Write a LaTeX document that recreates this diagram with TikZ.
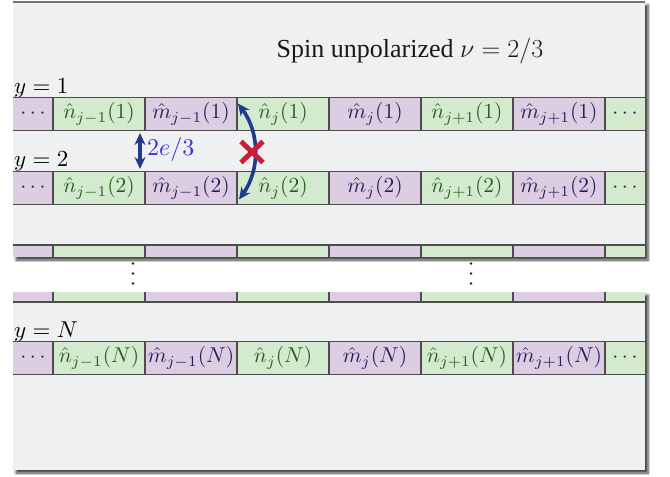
\RequirePackage{fix-cm}
\documentclass[tikz,border=0pt]{standalone}
\usepackage{graphicx}
\usepackage{fontspec}
\newfontfamily\titlefont{Liberation Serif}
\usetikzlibrary{arrows.meta,shapes.misc,shadows.blur,calc}
\definecolor{bgpanel}{HTML}{EFF0F2}
\definecolor{cellP}{HTML}{DCCDE3}
\definecolor{cellG}{HTML}{D4EACF}
\definecolor{txtG}{HTML}{24601A}
\definecolor{txtP}{HTML}{2A1F5C}
\definecolor{arrB}{HTML}{223A8E}
\definecolor{lblB}{HTML}{3030E0}
\definecolor{xred}{HTML}{C81E3A}
\definecolor{edgegray}{HTML}{4D4D4D}
\newcommand\sbx[1]{\scalebox{2.15}{$#1$}}
\newcommand\cellrow[3]{%
\node[cellp,minimum width=40pt] (#1a) at (33,#2) {\sbx{\cdots}};
\node[cellg,minimum width=92pt] (#1b) at (99,#2) {\sbx{\hat n_{j-1}(#3)}};
\node[cellp,minimum width=92pt] (#1c) at (191,#2) {\sbx{\hat m_{j-1}(#3)}};
\node[cellg,minimum width=92pt] (#1d) at (283,#2) {\sbx{\hat n_{j}(#3)}};
\node[cellp,minimum width=92pt] (#1e) at (375,#2) {\sbx{\hat m_{j}(#3)}};
\node[cellg,minimum width=92pt] (#1f) at (467,#2) {\sbx{\hat n_{j+1}(#3)}};
\node[cellp,minimum width=92pt] (#1g) at (559,#2) {\sbx{\hat m_{j+1}(#3)}};
\node[cellg,minimum width=40pt,text=txtP] (#1h) at (625,#2) {\sbx{\cdots}};
\draw[edgeline] (#1a.north west) -- (#1h.north east) (#1a.south west) -- (#1h.south east);
\foreach \cc in {b,c,d,e,f,g,h} {\draw[edgeline] (#1\cc.north west) -- (#1\cc.south west);}
}
\begin{document}
\begin{tikzpicture}[x=1pt,y=-1pt,
  cellbase/.style={minimum height=33pt, inner sep=0pt, outer sep=0pt},
  cellp/.style={cellbase, fill=cellP, text=txtP},
  cellg/.style={cellbase, fill=cellG, text=txtG},
  edgeline/.style={draw=edgegray, line width=1.2pt},
  lbl/.style={anchor=base west, inner sep=0pt},
  panel/.style={fill=bgpanel, blur shadow={shadow xshift=3pt, shadow yshift=-3pt, shadow blur steps=6, shadow opacity=70}},
  bluearrow/.style={draw=arrB, line width=3.6pt, {Stealth[length=12pt,width=11pt]}-{Stealth[length=12pt,width=11pt]}},
  dotnode/.style={circle, fill=black!85, inner sep=0pt, minimum size=2.8pt},
]
\useasboundingbox (0,0) rectangle (670,477);
\fill[white] (0,0) rectangle (670,477);
% panels
\path[panel] (13,2) rectangle (645,257);
\path[panel] (13,292) rectangle (645,470);
\draw[draw=black!55, line width=1.2pt] (13,2) -- (645,2);
% title
\node[anchor=base, inner sep=0pt, text=black!90, font=\titlefont\fontsize{26}{31}\selectfont] (title) at (410,57) {Spin unpolarized $\nu=2/3$};
% labels
\node[lbl] (ly1) at (14,93) {\scalebox{2.3}{$y=1$}};
\node[lbl] (ly2) at (14,166) {\scalebox{2.3}{$y=2$}};
\node[lbl] (lyN) at (14,337) {\scalebox{2.3}{$y=N$}};
% rows
\cellrow{r1}{114}{1}
\cellrow{r2}{188}{2}
\cellrow{rN}{358}{N}
% torn strips
\foreach \xa/\xb/\col in {13/53/cellP,53/145/cellG,145/237/cellP,237/329/cellG,329/421/cellP,421/513/cellG,513/605/cellP,605/645/cellG} {
  \fill[\col] (\xa,245) rectangle (\xb,257);
  \fill[\col] (\xa,292) rectangle (\xb,302);
}
\draw[edgeline] (13,245) -- (645,245);
\draw[edgeline] (13,302) -- (645,302);
\foreach \xa in {53,145,237,329,421,513,605} {
  \draw[edgeline] (\xa,245) -- (\xa,257);
  \draw[edgeline] (\xa,292) -- (\xa,302);
}
% vertical dots
\foreach \xa/\nm in {133/a,471/b} {
  \node[dotnode] (dt\nm1) at (\xa,263.5) {};
  \node[dotnode] (dt\nm2) at (\xa,273.5) {};
  \node[dotnode] (dt\nm3) at (\xa,283.5) {};
}
% 2e/3 arrow
\coordinate (q1) at ($(r1c.south west)+(-5,2.5)$);
\coordinate (q2) at ($(r2c.north west)+(-5,-2.5)$);
\draw[bluearrow] (q1) -- (q2);
\node[lbl, text=lblB] (lq) at (147,155) {\scalebox{2.4}{$2e/3$}};
% curved arrow
\coordinate (p1) at ($(r1d.north west)+(1,6)$);
\coordinate (p2) at ($(r2d.south west)+(2,-5)$);
\draw[bluearrow] (p1) .. controls (260,133) and (260,170) .. (p2);
% red cross
\node[cross out, draw=xred, line width=5pt, minimum width=17pt, minimum height=16pt, inner sep=0pt] (xx) at (252,152) {};
\end{tikzpicture}
\end{document}
